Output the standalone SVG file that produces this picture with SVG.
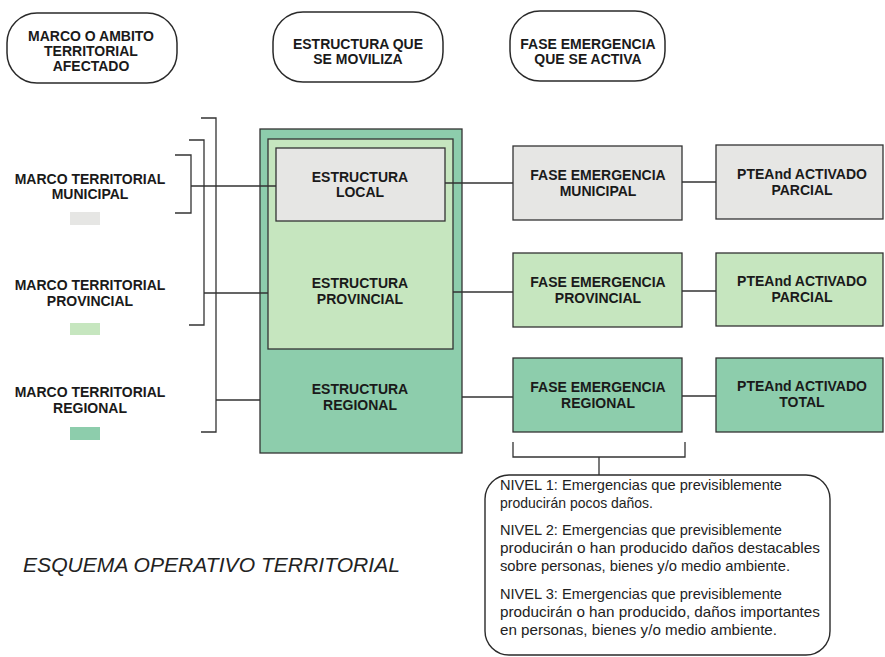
<svg xmlns="http://www.w3.org/2000/svg" width="885" height="657" viewBox="0 0 885 657">
<style>
.hdr{fill:#fff;stroke:#2a2a2a;stroke-width:1.5}
.box{stroke:#333;stroke-width:1.3}
.grey{fill:#e6e6e4}
.lgreen{fill:#c6e6bf}
.dgreen{fill:#8dcdac}
.t{font-family:"Liberation Sans",Arial,sans-serif;font-weight:bold;font-size:14px;fill:#1a1a1a;text-anchor:middle}
.n{font-family:"Liberation Sans",Arial,sans-serif;font-size:14.5px;fill:#222}
.ln{fill:none;stroke:#333;stroke-width:1.3}
</style>
<rect width="885" height="657" fill="#fff"/>
<g id="hdr-marco">
<rect class="hdr" x="7" y="13" width="170" height="70" rx="30"/>
<text class="t" x="91" y="41">MARCO O AMBITO</text>
<text class="t" x="91" y="56">TERRITORIAL</text>
<text class="t" x="91" y="71">AFECTADO</text>
</g>
<g id="hdr-estructura">
<rect class="hdr" x="273" y="12" width="170" height="70" rx="30"/>
<text class="t" x="358" y="49">ESTRUCTURA QUE</text>
<text class="t" x="358" y="64">SE MOVILIZA</text>
</g>
<g id="hdr-fase">
<rect class="hdr" x="510" y="11" width="155" height="70" rx="30"/>
<text class="t" x="588" y="49">FASE EMERGENCIA</text>
<text class="t" x="588" y="64">QUE SE ACTIVA</text>
</g>
<g id="marco-municipal">
<text class="t" x="90" y="184">MARCO TERRITORIAL</text>
<text class="t" x="90" y="199">MUNICIPAL</text>
<rect class="grey" x="70" y="212" width="30" height="13"/>
</g>
<g id="marco-provincial">
<text class="t" x="90" y="290">MARCO TERRITORIAL</text>
<text class="t" x="90" y="306">PROVINCIAL</text>
<rect class="lgreen" x="70" y="323" width="30" height="12"/>
</g>
<g id="marco-regional">
<text class="t" x="90" y="397">MARCO TERRITORIAL</text>
<text class="t" x="90" y="413">REGIONAL</text>
<rect class="dgreen" x="70" y="427" width="30" height="13"/>
</g>
<g id="estructura-regional">
<rect class="box dgreen" x="260" y="129" width="202" height="324"/>
<text class="t" x="360" y="394">ESTRUCTURA</text>
<text class="t" x="360" y="410">REGIONAL</text>
</g>
<g id="estructura-provincial">
<rect class="box lgreen" x="268" y="139" width="185" height="210"/>
<text class="t" x="360" y="288">ESTRUCTURA</text>
<text class="t" x="360" y="304">PROVINCIAL</text>
</g>
<g id="estructura-local">
<rect class="box grey" x="276" y="148" width="169" height="73"/>
<text class="t" x="360" y="182">ESTRUCTURA</text>
<text class="t" x="360" y="197">LOCAL</text>
</g>
<g id="fase-municipal">
<rect class="box grey" x="513" y="146" width="169" height="74"/>
<text class="t" x="598" y="180">FASE EMERGENCIA</text>
<text class="t" x="598" y="196">MUNICIPAL</text>
</g>
<g id="fase-provincial">
<rect class="box lgreen" x="513" y="253" width="169" height="74"/>
<text class="t" x="598" y="287">FASE EMERGENCIA</text>
<text class="t" x="598" y="303">PROVINCIAL</text>
</g>
<g id="fase-regional">
<rect class="box dgreen" x="513" y="358" width="169" height="74"/>
<text class="t" x="598" y="392">FASE EMERGENCIA</text>
<text class="t" x="598" y="408">REGIONAL</text>
</g>
<g id="ptea-municipal">
<rect class="box grey" x="716" y="145" width="167" height="74"/>
<text class="t" x="802" y="179">PTEAnd ACTIVADO</text>
<text class="t" x="802" y="195">PARCIAL</text>
</g>
<g id="ptea-provincial">
<rect class="box lgreen" x="716" y="253" width="167" height="73"/>
<text class="t" x="802" y="286">PTEAnd ACTIVADO</text>
<text class="t" x="802" y="302">PARCIAL</text>
</g>
<g id="ptea-total">
<rect class="box dgreen" x="716" y="358" width="167" height="74"/>
<text class="t" x="802" y="391">PTEAnd ACTIVADO</text>
<text class="t" x="802" y="407">TOTAL</text>
</g>
<g id="niveles">
<rect x="485" y="475" width="345" height="180" rx="24" fill="#fff" stroke="#2a2a2a" stroke-width="1.4"/>
<text class="n" x="500" y="490" textLength="282" lengthAdjust="spacingAndGlyphs">NIVEL 1: Emergencias que previsiblemente</text>
<text class="n" x="500" y="508" textLength="153" lengthAdjust="spacingAndGlyphs">producirán pocos daños.</text>
<text class="n" x="500" y="535" textLength="282" lengthAdjust="spacingAndGlyphs">NIVEL 2: Emergencias que previsiblemente</text>
<text class="n" x="500" y="553" textLength="320" lengthAdjust="spacingAndGlyphs">producirán o han producido daños destacables</text>
<text class="n" x="500" y="571" textLength="290" lengthAdjust="spacingAndGlyphs">sobre personas, bienes y/o medio ambiente.</text>
<text class="n" x="500" y="599" textLength="282" lengthAdjust="spacingAndGlyphs">NIVEL 3: Emergencias que previsiblemente</text>
<text class="n" x="500" y="617" textLength="320" lengthAdjust="spacingAndGlyphs">producirán o han producido, daños importantes</text>
<text class="n" x="500" y="635" textLength="277" lengthAdjust="spacingAndGlyphs">en personas, bienes y/o medio ambiente.</text>
</g>
<g id="connectors">
<path class="ln" d="M175 155H191V213H175M191 186H276"/>
<path class="ln" d="M189 140H204V325H189M204 293H268"/>
<path class="ln" d="M201 118H216V432H201M216 400H260"/>
<path class="ln" d="M445 183H513M453 292H513M462 397H513"/>
<path class="ln" d="M682 182H716M682 291H716M682 396H716"/>
<path class="ln" d="M513 442V457H685V442M599 457V475"/>
</g>
<text x="23" y="572" font-family="Liberation Sans,Arial,sans-serif" font-style="italic" font-size="21" fill="#222" textLength="377" lengthAdjust="spacingAndGlyphs">ESQUEMA OPERATIVO TERRITORIAL</text>
</svg>
